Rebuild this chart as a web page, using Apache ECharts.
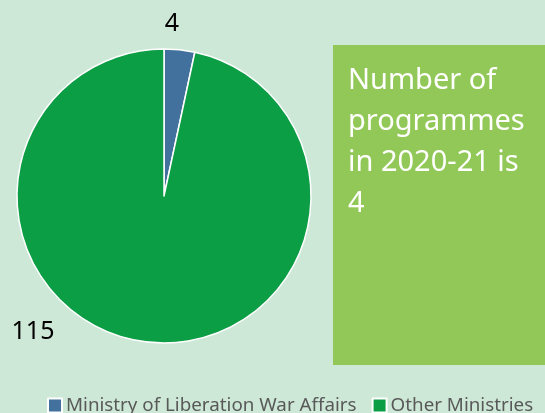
<!DOCTYPE html>
<html>
<head>
<meta charset="utf-8">
<script src="https://cdn.jsdelivr.net/npm/echarts@6/dist/echarts.min.js"></script>
<style>
  html, body { margin: 0; padding: 0; background: #cde8d6; }
  #chart { width: 545px; height: 413px; }
</style>
</head>
<body>
<div id="chart"></div>
<script>
// data
var names = ['Ministry of Liberation War Affairs', 'Other Ministries'];
var counts = [4, 115];
var colors = ['#41719c', '#0c9e45'];
var noteLines = ['Number of', 'programmes', 'in 2020-21 is', '4'];

var pieData = names.map(function (n, i) {
	return { name: n, value: counts[i], itemStyle: { color: colors[i] } };
});

var chart = echarts.init(document.getElementById('chart'));
chart.setOption({
	backgroundColor: '#cde8d6',
	animation: false,
	legend: {
		top: 396,
		left: 47,
		padding: 0,
		icon: 'rect',
		itemWidth: 14,
		itemHeight: 14,
		itemGap: 15,
		textStyle: { color: '#595959', fontSize: 18.8, fontFamily: 'Noto Sans', padding: [0, 0, 0, -1] },
		data: names
	},
	graphic: [{
		type: 'rect',
		shape: { x: 333, y: 45, width: 212, height: 320 },
		style: { fill: '#92c857' }
	}, {
		type: 'text',
		left: 348,
		top: 60,
		style: {
			text: noteLines.join('\n'),
			fill: '#ffffff',
			fontSize: 29,
			lineHeight: 41,
			fontFamily: 'Noto Sans'
		}
	}],
	series: [{
		type: 'pie',
		center: [164, 196],
		radius: 147,
		startAngle: 90,
		clockwise: true,
		data: pieData,
		itemStyle: { borderColor: '#ffffff', borderWidth: 1.5 },
		label: {
			show: true,
			position: 'outside',
			formatter: '{c}',
			color: '#000000',
			fontSize: 25,
			fontFamily: 'Noto Sans'
		},
		labelLine: { show: false },
		labelLayout: function (p) {
			// Excel-style placement of the two value labels
			if (p.dataIndex === 0) return { x: 172, y: 24, align: 'center', verticalAlign: 'middle' };
			return { x: 33, y: 332, align: 'center', verticalAlign: 'middle' };
		}
	}]
});
</script>
</body>
</html>
